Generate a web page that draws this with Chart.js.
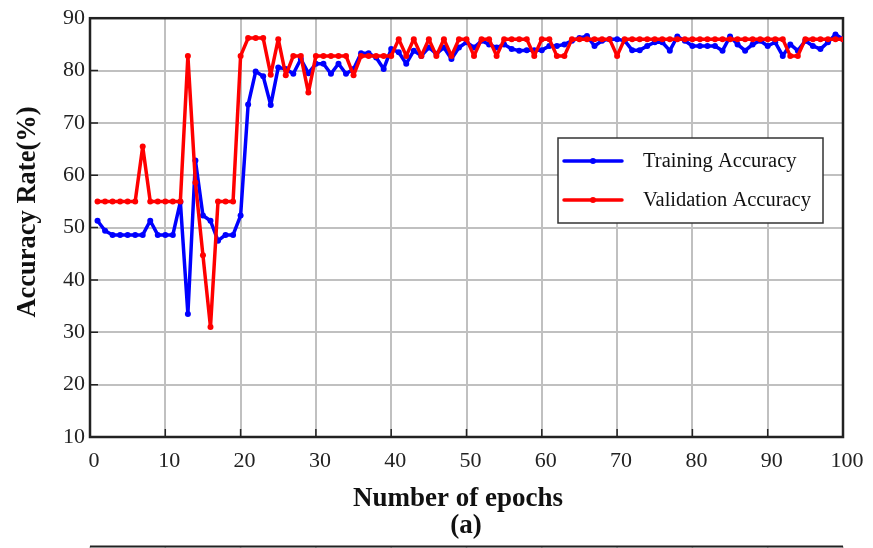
<!DOCTYPE html>
<html>
<head>
<meta charset="utf-8">
<script src="https://cdn.jsdelivr.net/npm/chart.js@4.4.0/dist/chart.umd.min.js"></script>
<style>
  html, body { margin: 0; padding: 0; background: #fff; }
  #wrap { width: 873px; height: 548px; position: relative; }
</style>
</head>
<body>
<div id="wrap"><canvas id="accChart"></canvas></div>
<script>
// ---- data ----
const epochs = [
  1, 2, 3, 4, 5, 6, 7, 8, 9, 10,
  11, 12, 13, 14, 15, 16, 17, 18, 19, 20,
  21, 22, 23, 24, 25, 26, 27, 28, 29, 30,
  31, 32, 33, 34, 35, 36, 37, 38, 39, 40,
  41, 42, 43, 44, 45, 46, 47, 48, 49, 50,
  51, 52, 53, 54, 55, 56, 57, 58, 59, 60,
  61, 62, 63, 64, 65, 66, 67, 68, 69, 70,
  71, 72, 73, 74, 75, 76, 77, 78, 79, 80,
  81, 82, 83, 84, 85, 86, 87, 88, 89, 90,
  91, 92, 93, 94, 95, 96, 97, 98, 99, 100
];

const trainingAcc = [
  51.3, 49.4, 48.6, 48.6, 48.6, 48.6, 48.6, 51.3, 48.6, 48.6,
  48.6, 54.9, 33.5, 62.8, 52.3, 51.3, 47.5, 48.6, 48.6, 52.3,
  73.5, 79.8, 78.9, 73.4, 80.6, 80.3, 79.4, 82.2, 79.5, 81.3,
  81.3, 79.4, 81.3, 79.4, 80.3, 83.3, 83.3, 82.5, 80.3, 84.1,
  83.5, 81.3, 83.8, 82.8, 84.4, 83.2, 84.4, 82.2, 84.4, 85.4,
  84.4, 85.7, 85.0, 84.4, 85.0, 84.1, 83.8, 83.9, 83.9, 83.9,
  84.7, 84.7, 85.0, 85.7, 86.2, 86.6, 84.7, 85.7, 86.0, 86.0,
  85.7, 83.9, 83.9, 84.7, 85.4, 85.4, 83.8, 86.5, 85.7, 84.7,
  84.7, 84.7, 84.7, 83.8, 86.5, 85.0, 83.8, 85.0, 85.7, 84.7,
  85.4, 82.8, 85.0, 83.8, 85.7, 84.7, 84.1, 85.4, 86.9, 86.0
];

const validationAcc = [
  55.0, 55.0, 55.0, 55.0, 55.0, 55.0, 65.5, 55.0, 55.0, 55.0,
  55.0, 55.0, 82.8, 58.6, 44.7, 31.0, 55.0, 55.0, 55.0, 82.8,
  86.2, 86.2, 86.2, 79.2, 86.0, 79.1, 82.8, 82.8, 75.8, 82.8,
  82.8, 82.8, 82.8, 82.8, 79.1, 82.8, 82.8, 82.8, 82.8, 82.8,
  86.0, 82.8, 86.0, 82.8, 86.0, 82.8, 86.0, 82.8, 86.0, 86.0,
  82.8, 86.0, 86.0, 82.8, 86.0, 86.0, 86.0, 86.0, 82.8, 86.0,
  86.0, 82.8, 82.8, 86.0, 86.0, 86.0, 86.0, 86.0, 86.0, 82.8,
  86.0, 86.0, 86.0, 86.0, 86.0, 86.0, 86.0, 86.0, 86.0, 86.0,
  86.0, 86.0, 86.0, 86.0, 86.0, 86.0, 86.0, 86.0, 86.0, 86.0,
  86.0, 86.0, 82.8, 82.8, 86.0, 86.0, 86.0, 86.0, 86.0, 86.0
];

const xTickValues = [0, 10, 20, 30, 40, 50, 60, 70, 80, 90, 100];
const yTickValues = [10, 20, 30, 40, 50, 60, 70, 80, 90];

const seriesNames = ['Training Accuracy', 'Validation Accuracy'];
const seriesColors = ['#0000ff', '#ff0000'];
const xTitleLines = ['Number of epochs', '(a)'];
const yTitle = 'Accuracy Rate(%)';

const SERIF = '"Liberation Serif", "Times New Roman", serif';

function toPoints(values) {
  return epochs.map((e, i) => ({ x: e, y: values[i] }));
}

// ---- plugins ----

// dark frame around the plot area, with short inward ticks
const frameBorder = {
  id: 'frameBorder',
  beforeDatasetsDraw(chart) {
    const { ctx, chartArea: a, scales } = chart;
    ctx.save();
    ctx.strokeStyle = '#222';
    ctx.lineWidth = 1.5;
    ctx.beginPath();
    yTickValues.forEach(v => {
      const py = scales.y.getPixelForValue(v);
      ctx.moveTo(a.left, py);
      ctx.lineTo(a.left + 8, py);
    });
    xTickValues.forEach(v => {
      const px = scales.x.getPixelForValue(v);
      ctx.moveTo(px, a.bottom);
      ctx.lineTo(px, a.bottom - 8);
    });
    ctx.stroke();
    ctx.lineWidth = 2.5;
    ctx.strokeRect(a.left, a.top, a.right - a.left, a.bottom - a.top);
    ctx.restore();
  }
};

// axis titles placed where the figure has them
const axisTitles = {
  id: 'axisTitles',
  afterDraw(chart) {
    const ctx = chart.ctx;
    ctx.save();
    ctx.fillStyle = '#111';
    ctx.textAlign = 'center';
    ctx.textBaseline = 'middle';
    ctx.font = 'bold 27px ' + SERIF;
    ctx.fillText(xTitleLines[0], 458, 499);
    ctx.fillText(xTitleLines[1], 466, 526);

    ctx.font = 'bold 26.5px ' + SERIF;
    ctx.translate(28, 212);
    ctx.rotate(-Math.PI / 2);
    ctx.fillText(yTitle, 0, 0);
    ctx.restore();
  }
};

// boxed legend sitting inside the plot
const insideLegend = {
  id: 'insideLegend',
  afterDraw(chart) {
    const ctx = chart.ctx;
    const box = { x: 558, y: 138, w: 265, h: 85 };
    ctx.save();
    ctx.fillStyle = '#fff';
    ctx.fillRect(box.x, box.y, box.w, box.h);
    ctx.strokeStyle = '#333';
    ctx.lineWidth = 1.5;
    ctx.strokeRect(box.x, box.y, box.w, box.h);

    const rows = [161, 200];
    chart.data.datasets.forEach((ds, i) => {
      const y = rows[i];
      ctx.strokeStyle = ds.borderColor;
      ctx.lineWidth = 3.5;
      ctx.lineCap = 'round';
      ctx.beginPath();
      ctx.moveTo(564, y);
      ctx.lineTo(622, y);
      ctx.stroke();
      ctx.fillStyle = ds.borderColor;
      ctx.beginPath();
      ctx.arc(593, y, 3, 0, Math.PI * 2);
      ctx.fill();

      ctx.fillStyle = '#111';
      ctx.font = '20.5px ' + SERIF;
      ctx.textBaseline = 'middle';
      ctx.textAlign = 'left';
      ctx.fillText(ds.label, 643, y + 1);
    });
    ctx.restore();
  }
};

// top edge of the next panel, cut off at the bottom of the picture
const nextPanelEdge = {
  id: 'nextPanelEdge',
  afterDraw(chart) {
    const { ctx, chartArea: a, scales } = chart;
    const y = 546.5;
    ctx.save();
    ctx.strokeStyle = '#c0c0c0';
    ctx.lineWidth = 1.5;
    xTickValues.forEach(v => {
      const px = scales.x.getPixelForValue(v);
      ctx.beginPath();
      ctx.moveTo(px, y);
      ctx.lineTo(px, 548);
      ctx.stroke();
    });
    ctx.strokeStyle = '#222';
    ctx.lineWidth = 2;
    ctx.beginPath();
    ctx.moveTo(a.left, y);
    ctx.lineTo(a.right, y);
    ctx.stroke();
    ctx.restore();
  }
};

// ---- chart ----

const ctx = document.getElementById('accChart');

const lineStyle = {
  borderWidth: 3.5,
  pointRadius: 3,
  pointBorderWidth: 0,
  borderJoinStyle: 'round',
  borderCapStyle: 'round',
  tension: 0
};

new Chart(ctx, {
  type: 'line',
  data: {
    datasets: [
      Object.assign({
        label: seriesNames[0],
        data: toPoints(trainingAcc),
        borderColor: seriesColors[0],
        backgroundColor: seriesColors[0],
        order: 1
      }, lineStyle),
      Object.assign({
        label: seriesNames[1],
        data: toPoints(validationAcc),
        borderColor: seriesColors[1],
        backgroundColor: seriesColors[1],
        order: 0
      }, lineStyle)
    ]
  },
  options: {
    responsive: true,
    maintainAspectRatio: false,
    animation: false,
    layout: {
      padding: { top: 14, right: 30, left: 0, bottom: 0 }
    },
    plugins: {
      legend: { display: false },
      tooltip: { enabled: false }
    },
    scales: {
      x: {
        type: 'linear',
        min: 0,
        max: 100,
        afterBuildTicks(scale) {
          scale.ticks = xTickValues.map(v => ({ value: v }));
        },
        afterFit(scale) {
          scale.height = 111;
        },
        border: { display: false },
        grid: {
          color: '#c0c0c0',
          lineWidth: 2,
          drawTicks: false
        },
        ticks: {
          color: '#222',
          padding: 11,
          labelOffset: 4,
          maxRotation: 0,
          font: { family: SERIF, size: 22 }
        },
        title: { display: false }
      },
      y: {
        min: 10,
        max: 90,
        afterBuildTicks(scale) {
          scale.ticks = yTickValues.map(v => ({ value: v }));
        },
        afterFit(scale) {
          scale.width = 90;
        },
        border: { display: false },
        grid: {
          color: '#c0c0c0',
          lineWidth: 2,
          drawTicks: false
        },
        ticks: {
          color: '#222',
          padding: 5,
          font: { family: SERIF, size: 22 }
        },
        title: { display: false }
      }
    }
  },
  plugins: [frameBorder, axisTitles, insideLegend, nextPanelEdge]
});
</script>
</body>
</html>
